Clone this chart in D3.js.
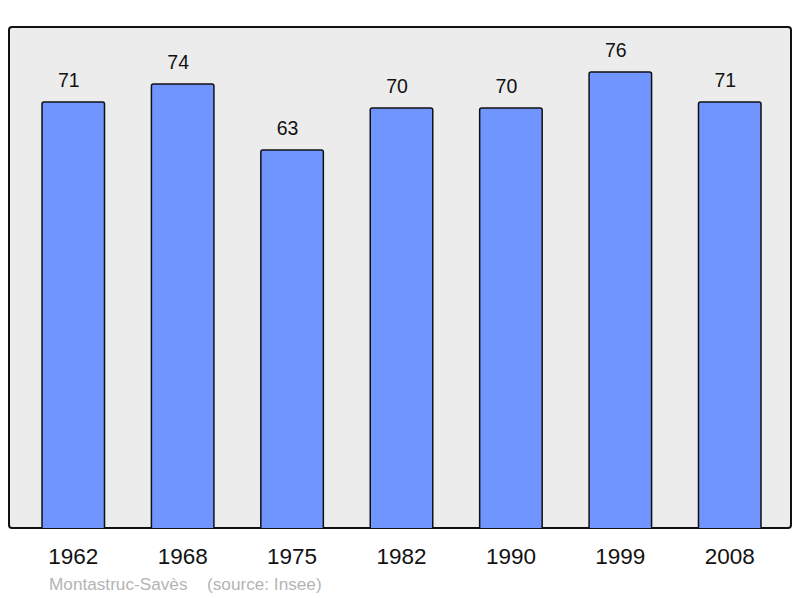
<!DOCTYPE html>
<html>
<meta charset=utf-8>
<head>
<script src="https://d3js.org/d3.v7.min.js"></script>
<style>
  body { margin: 0; background: #fff; }
  text { font-family: "Liberation Sans", Arial, sans-serif; }
</style>
</head>
<body>
<script>
var years = ["1962", "1968", "1975", "1982", "1990", "1999", "2008"];
var population = [71, 74, 63, 70, 70, 76, 71];

var svg = d3.select("body").append("svg")
    .attr("width", 800)
    .attr("height", 598);

// panel
svg.append("rect")
    .attr("x", 9).attr("y", 27)
    .attr("width", 782).attr("height", 501)
    .attr("rx", 3)
    .attr("fill", "#ececec")
    .attr("stroke", "#111")
    .attr("stroke-width", 2);

var x = d3.scaleBand()
    .domain(years)
    .range([18.55, 784.45])
    .paddingInner(0.4287)
    .paddingOuter(0.21435);

var y = d3.scaleLinear()
    .domain([0, 83.5])
    .range([528, 27]);

svg.selectAll(".bar")
    .data(population)
    .enter().append("path")
    .attr("class", "bar")
    .attr("fill", "#7095ff")
    .attr("stroke", "#111")
    .attr("stroke-width", 1.5)
    .attr("d", function(d, i) {
      var x0 = x(years[i]), x1 = x0 + x.bandwidth(), y0 = y(d), yb = y(0), r = 2;
      return "M" + x0 + "," + yb + "V" + (y0 + r) + "Q" + x0 + "," + y0 + " " + (x0 + r) + "," + y0 +
             "H" + (x1 - r) + "Q" + x1 + "," + y0 + " " + x1 + "," + (y0 + r) + "V" + yb;
    });

// value labels
svg.selectAll(".val")
    .data(population)
    .enter().append("text")
    .attr("class", "val")
    .attr("x", function(d, i) { return x(years[i]) + x.bandwidth() / 2 - 4.5; })
    .attr("y", function(d) { return y(d) - 15; })
    .attr("text-anchor", "middle")
    .attr("font-size", 19.5)
    .attr("fill", "#111")
    .text(function(d) { return d; });

// year labels
svg.selectAll(".yr")
    .data(years)
    .enter().append("text")
    .attr("class", "yr")
    .attr("x", function(d) { return x(d) + x.bandwidth() / 2; })
    .attr("y", 564)
    .attr("text-anchor", "middle")
    .attr("font-size", 22.5)
    .attr("fill", "#111")
    .text(function(d) { return d; });

svg.append("text")
    .attr("x", 49).attr("y", 590)
    .attr("font-size", 17.2)
    .attr("fill", "#b4b4b4")
    .text("Montastruc-Savès");

svg.append("text")
    .attr("x", 207).attr("y", 590)
    .attr("font-size", 17.2)
    .attr("fill", "#b4b4b4")
    .text("(source: Insee)");
</script>
</body>
</html>
